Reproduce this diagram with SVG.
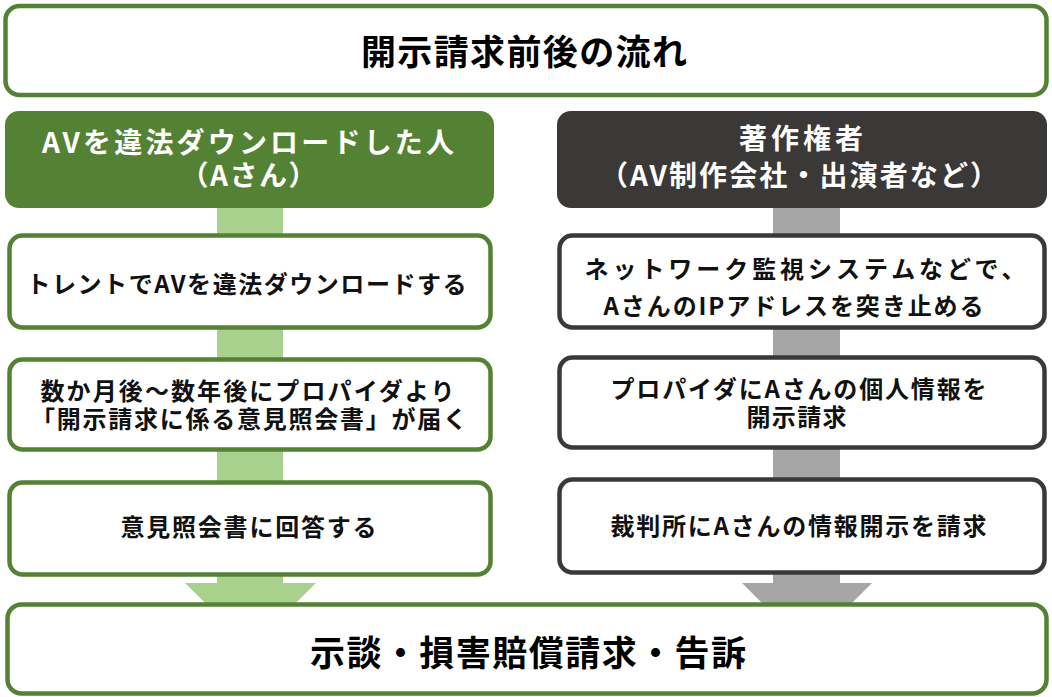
<svg xmlns="http://www.w3.org/2000/svg" width="1052" height="697" viewBox="0 0 1052 697">
<style>
text{font-family:"Noto Sans CJK JP","Noto Sans CJK SC",sans-serif;font-weight:bold;text-anchor:middle;}
.t{font-size:35px;fill:#000;}
.h{font-size:28px;fill:#fff;}
.b{font-size:24px;fill:#111;}
.gbox{fill:#fff;stroke:#548235;stroke-width:4.5;}
.dbox{fill:#fff;stroke:#3b3838;stroke-width:4.5;}
</style>
<rect width="1052" height="697" fill="#fff"/>
<g id="connectors">
<rect x="217" y="200" width="66" height="383" fill="#a9d18e"/>
<polygon points="185,583 316,583 250.5,648" fill="#a9d18e"/>
<rect x="773" y="200" width="67" height="383" fill="#a6a6a6"/>
<polygon points="742,583 872,583 807,648" fill="#a6a6a6"/>
</g>
<g id="title">
<rect class="gbox" x="5.5" y="6" width="1041" height="89" rx="14"/>
<text class="t" x="524" y="65" textLength="326" lengthAdjust="spacing">開示請求前後の流れ</text>
</g>
<g id="header-left">
<rect x="5" y="111" width="489" height="97" rx="14" fill="#548235"/>
<text class="h" x="248" y="153" textLength="412" lengthAdjust="spacing">AVを違法ダウンロードした人</text>
<text class="h" x="248.5" y="186" textLength="136" lengthAdjust="spacing">（Aさん）</text>
</g>
<g id="header-right">
<rect x="557" y="111" width="490" height="97" rx="14" fill="#3b3838"/>
<text class="h" x="801" y="149" textLength="124" lengthAdjust="spacing">著作権者</text>
<text class="h" x="799" y="186" textLength="398" lengthAdjust="spacing">（AV制作会社・出演者など）</text>
</g>
<g id="left-1">
<rect class="gbox" x="9.5" y="235.5" width="481" height="92" rx="13"/>
<text class="b" x="246.5" y="293" textLength="440" lengthAdjust="spacing">トレントでAVを違法ダウンロードする</text>
</g>
<g id="left-2">
<rect class="gbox" x="9.5" y="359.5" width="481" height="90" rx="13"/>
<text class="b" x="247.5" y="400" textLength="414" lengthAdjust="spacing">数か月後～数年後にプロパイダより</text>
<text class="b" x="249" y="428" textLength="436" lengthAdjust="spacing">「開示請求に係る意見照会書」が届く</text>
</g>
<g id="left-3">
<rect class="gbox" x="9.5" y="482.5" width="481" height="92" rx="13"/>
<text class="b" x="248.5" y="536" textLength="256" lengthAdjust="spacing">意見照会書に回答する</text>
</g>
<g id="right-1">
<rect class="dbox" x="559.5" y="235.5" width="485" height="92" rx="13"/>
<text class="b" x="805" y="278" textLength="441" lengthAdjust="spacing">ネットワーク監視システムなどで、</text>
<text class="b" x="793.5" y="315" textLength="380" lengthAdjust="spacing">AさんのIPアドレスを突き止める</text>
</g>
<g id="right-2">
<rect class="dbox" x="559.5" y="357.5" width="485" height="90" rx="13"/>
<text class="b" x="798.5" y="398" textLength="376" lengthAdjust="spacing">プロパイダにAさんの個人情報を</text>
<text class="b" x="796.5" y="426" textLength="100" lengthAdjust="spacing">開示請求</text>
</g>
<g id="right-3">
<rect class="dbox" x="559.5" y="479.5" width="485" height="93" rx="13"/>
<text class="b" x="798.5" y="535" textLength="376" lengthAdjust="spacing">裁判所にAさんの情報開示を請求</text>
</g>
<g id="result">
<rect class="gbox" x="7.5" y="604.5" width="1039" height="89" rx="14"/>
<text class="t" x="528" y="666" textLength="436" lengthAdjust="spacing">示談・損害賠償請求・告訴</text>
</g>
</svg>
